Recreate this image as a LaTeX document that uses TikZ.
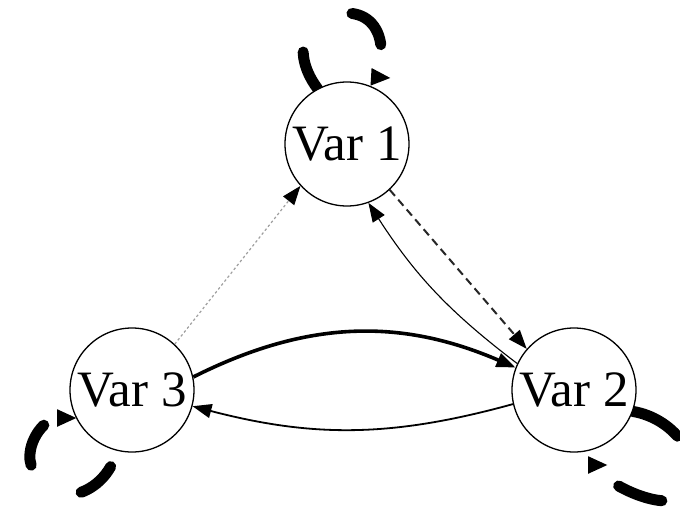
\documentclass[tikz,border=0pt]{standalone}
\usepackage{fontspec}
\setmainfont{Liberation Serif}
\usetikzlibrary{arrows.meta,backgrounds}
\begin{document}
\begin{tikzpicture}[x=1pt,y=1pt,
  var/.style={circle,draw,line width=1.3pt,fill=white,minimum size=124pt,inner sep=0pt,font=\fontsize{51}{51}\selectfont},
  tipped/.style={-{Triangle[length=19pt,width=14pt,color=black]}},
  selfloop/.style={line width=11pt,line cap=round,-{Triangle[length=20pt,width=16pt]}}]
\useasboundingbox (0,0) rectangle (680,-512);
\node[var] (v1) at (347,-144) {Var 1};
\node[var] (v2) at (574,-390) {Var 2};
\node[var] (v3) at (132,-390) {Var 3};
\coordinate (e1) at (391,-78);
\coordinate (e2) at (608,-465);
\coordinate (e3) at (77,-418);
\begin{scope}[on background layer]
\fill[white] (0,0) rectangle (680,-512);
% directed edges
\draw[tipped, gray!75, line width=1.2pt, dash pattern=on 2.5pt off 2.5pt] (v3.47) -- (v1.222);
\draw[tipped, black!85, line width=2pt, dash pattern=on 8pt off 5pt] (v1.-47) -- (v2.139);
\draw[tipped, line width=1.1pt] (v2.155) to[bend left=10] (v1.-70);
\draw[tipped, line width=3.6pt] (v3.12) to[bend left=25] (v2.159);
\draw[tipped, line width=1.8pt] (v2.193) to[bend left=15] (v3.-15);
% self loops
\draw[selfloop, dash pattern=on 40pt off 72pt on 46pt off 300pt]
  (v1.118) .. controls (285,-45) and (312,-5) .. (355,-14)
  .. controls (374,-18) and (383,-36) .. (381,-58)
  .. controls (380,-68) and (374,-77) .. (e1);
\draw[selfloop, dash pattern=on 52pt off 90pt on 46pt off 300pt]
  (v2.-20) .. controls (672,-418) and (702,-455) .. (690,-490)
  .. controls (680,-510) and (640,-500) .. (612,-482)
  .. controls (595,-472) and (585,-465) .. (e2);
\draw[selfloop, dash pattern=on 40pt off 65pt on 44pt off 400pt, dash phase=532pt]
  (v3.256) .. controls (105,-500) and (40,-515) .. (30,-460)
  .. controls (28,-440) and (45,-418) .. (e3);
\end{scope}
\end{tikzpicture}
\end{document}
